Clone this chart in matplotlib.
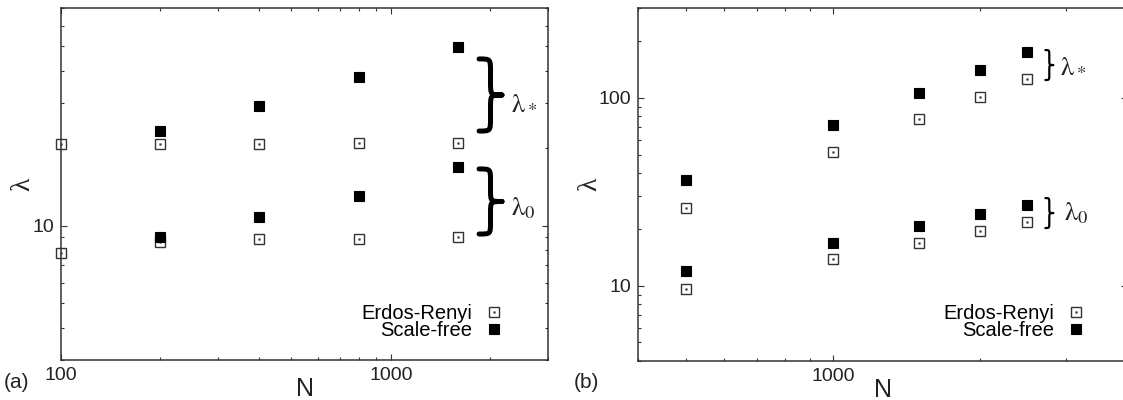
import matplotlib
matplotlib.use("Agg")
import matplotlib.pyplot as plt
from matplotlib.ticker import LogLocator, FixedLocator, NullFormatter, FixedFormatter
from matplotlib.legend_handler import HandlerTuple
from matplotlib.path import Path
from matplotlib.patches import PathPatch

plt.rcParams['font.family'] = ['Liberation Sans', 'DejaVu Sans']
plt.rcParams['mathtext.fontset'] = 'stix'

# ---- data: panel (a) ----
N_a_er = [100, 200, 400, 800, 1600]
er_star_a = [20.8, 20.7, 20.8, 21.0, 21.0]
er_zero_a = [7.8, 8.6, 8.9, 8.9, 9.0]
N_a_sf = [200, 400, 800, 1600]
sf_star_a = [23.4, 29.3, 38.0, 49.4]
sf_zero_a = [9.0, 10.8, 13.0, 16.9]

# ---- data: panel (b) ----
N_b = [500, 1000, 1500, 2000, 2500]
er_star_b = [26.0, 51.3, 76.9, 100.8, 126.0]
sf_star_b = [36.4, 71.5, 106.0, 141.6, 176.0]
er_zero_b = [9.6, 13.9, 16.9, 19.7, 21.9]
sf_zero_b = [12.0, 16.9, 20.9, 24.0, 26.8]

xticks_a = [100, 1000]
xticks_b = [1000]
yticks_a = [10]
yticks_b = [10, 100]
labels_legend = ['Erdos-Renyi', 'Scale-free']

W, H = 1123, 400
fig = plt.figure(figsize=(W / 100, H / 100), dpi=100)

def px_axes(x0, x1, ytop, ybot):
    return fig.add_axes([x0 / W, 1 - ybot / H, (x1 - x0) / W, (ybot - ytop) / H])

axA = px_axes(60.7, 548.3, 8.3, 360.0)
axB = px_axes(638.3, 1127.0, 8.3, 360.7)

er_kw = dict(linestyle='none', marker='s', markersize=6.5, markerfacecolor='white',
             markeredgecolor='#333333', markeredgewidth=1.0)
dot_kw = dict(linestyle='none', marker='s', markersize=1.2, markerfacecolor='#333333',
              markeredgecolor='#333333', markeredgewidth=0.3)
sf_kw = dict(linestyle='none', marker='s', markersize=6.5, markerfacecolor='black',
             markeredgecolor='black', markeredgewidth=0.8)

def draw(ax, Ner, ers, erz, Nsf, sfs, sfz):
    h1, = ax.plot(Ner, ers, clip_on=False, **er_kw)
    ax.plot(Ner, erz, clip_on=False, **er_kw)
    h2, = ax.plot(Ner, ers, clip_on=False, **dot_kw)
    ax.plot(Ner, erz, clip_on=False, **dot_kw)
    h3, = ax.plot(Nsf, sfs, clip_on=False, **sf_kw)
    ax.plot(Nsf, sfz, clip_on=False, **sf_kw)
    return (h1, h2), h3

hA_er, hA_sf = draw(axA, N_a_er, er_star_a, er_zero_a, N_a_sf, sf_star_a, sf_zero_a)
hB_er, hB_sf = draw(axB, N_b, er_star_b, er_zero_b, N_b, sf_star_b, sf_zero_b)

axA.set_xlim(100, 3000)
axA.set_ylim(3, 70)
axB.set_xlim(400, 4000)
axB.set_ylim(4, 300)

for ax, xt, yt in ((axA, xticks_a, yticks_a), (axB, xticks_b, yticks_b)):
    ax.set_xscale('log')
    ax.set_yscale('log')
    ax.xaxis.set_major_locator(FixedLocator(xt))
    ax.xaxis.set_major_formatter(FixedFormatter([str(v) for v in xt]))
    ax.yaxis.set_major_locator(FixedLocator(yt))
    ax.yaxis.set_major_formatter(FixedFormatter([str(v) for v in yt]))
    ax.xaxis.set_minor_locator(LogLocator(base=10, subs=range(2, 10), numticks=20))
    ax.yaxis.set_minor_locator(LogLocator(base=10, subs=range(2, 10), numticks=20))
    ax.xaxis.set_minor_formatter(NullFormatter())
    ax.yaxis.set_minor_formatter(NullFormatter())
    ax.tick_params(which='both', direction='in', top=True, right=True,
                   color='#333333', width=0.8, labelsize=14, labelcolor='#222222')
    ax.tick_params(which='major', length=4.5, pad=5)
    ax.tick_params(which='minor', length=2.5)
    for s in ax.spines.values():
        s.set_linewidth(1.1)
        s.set_color('#333333')
    ax.set_xlabel('N', fontsize=18, labelpad=-5, color='#222222')
    ax.set_ylabel('λ', fontsize=20, family=['Liberation Serif', 'DejaVu Serif'],
                  labelpad=-2.5, color='#222222')

# legends
for ax, her, hsf, anchor in ((axA, hA_er, hA_sf, (0.905, 0.058)),
                             (axB, hB_er, hB_sf, (0.913, 0.06))):
    ax.legend([her, hsf], labels_legend, loc='lower right', bbox_to_anchor=anchor,
              markerfirst=False, frameon=False, fontsize=14.5,
              handler_map={tuple: HandlerTuple(ndivide=1, pad=0)},
              handlelength=0.8, handletextpad=0.7, labelspacing=-0.12,
              borderaxespad=0, borderpad=0)

# curly braces drawn as paths (axes-fraction coordinates)
def brace(ax, x0, tip, yc, h, lw):
    xm = 0.5 * (x0 + tip)
    yt, yb = yc + h / 2, yc - h / 2
    q = 0.18 * h
    verts = [(x0, yt),
             (xm, yt), (xm, yt), (xm, yt - q),
             (xm, yc + q),
             (xm, yc), (xm, yc), (tip, yc),
             (xm, yc), (xm, yc), (xm, yc - q),
             (xm, yb + q),
             (xm, yb), (xm, yb), (x0, yb)]
    codes = [Path.MOVETO,
             Path.CURVE4, Path.CURVE4, Path.CURVE4,
             Path.LINETO,
             Path.CURVE4, Path.CURVE4, Path.CURVE4,
             Path.CURVE4, Path.CURVE4, Path.CURVE4,
             Path.LINETO,
             Path.CURVE4, Path.CURVE4, Path.CURVE4]
    ax.add_patch(PathPatch(Path(verts, codes), transform=ax.transAxes, fill=False,
                           lw=lw, edgecolor='black', capstyle='round', joinstyle='round',
                           clip_on=False))

brace(axA, 0.858, 0.905, 0.7535, 0.205, 3.6)
brace(axA, 0.858, 0.905, 0.4507, 0.185, 3.6)
axA.text(0.924, 0.734, r'$\mathrm{\lambda}_*$', transform=axA.transAxes, fontsize=19,
         va='center', ha='left', color='#222222')
axA.text(0.924, 0.432, r'$\mathrm{\lambda}_0$', transform=axA.transAxes, fontsize=19,
         va='center', ha='left', color='#222222')

brace(axB, 0.833, 0.849, 0.839, 0.085, 1.6)
brace(axB, 0.833, 0.849, 0.419, 0.085, 1.6)
axB.text(0.862, 0.839, r'$\mathrm{\lambda}_*$', transform=axB.transAxes, fontsize=19,
         va='center', ha='left', color='#222222')
axB.text(0.872, 0.419, r'$\mathrm{\lambda}_0$', transform=axB.transAxes, fontsize=19,
         va='center', ha='left', color='#222222')

fig.text(4 / W, 1 - 383 / H, '(a)', fontsize=15, va='center', ha='left', color='#222222')
fig.text(574 / W, 1 - 383 / H, '(b)', fontsize=15, va='center', ha='left', color='#222222')

fig.savefig('out.png', dpi=100)
